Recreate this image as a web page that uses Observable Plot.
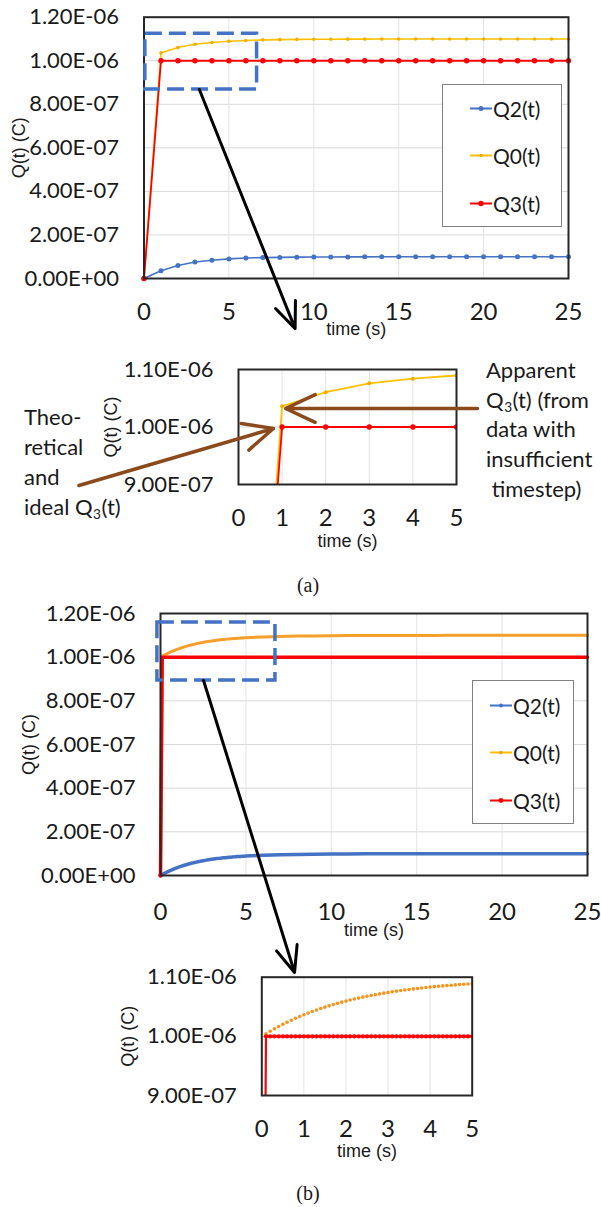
<!DOCTYPE html>
<html>
<head>
<meta charset="utf-8">
<script src="https://cdn.jsdelivr.net/npm/d3@7"></script>
<script src="https://cdn.jsdelivr.net/npm/@observablehq/plot@0.6"></script>
<style>
  html, body { margin: 0; padding: 0; background: #fff; }
  #page { position: relative; width: 601px; height: 1207px; overflow: hidden; background: #fff; }
  .layer { position: absolute; left: 0; }
  .note { position: absolute; font-family: Lato, "Open Sans", sans-serif; font-size: 22px; line-height: 26px; color: #1a1a1a; white-space: pre; transform: translateY(-50%); }
  .note sub { font-size: 0.62em; line-height: 0; vertical-align: -0.28em; margin: 0 0.5px; }
  .cap { position: absolute; font-family: "Liberation Serif", serif; font-size: 20px; color: #1a1a1a; transform: translate(-50%, -50%); }
  .legend { position: absolute; border: 1.5px solid #808080; box-sizing: border-box; background: #fff; }
  .lg { position: absolute; font-family: Lato, "Open Sans", sans-serif; font-size: 21px; color: #1a1a1a; display: flex; align-items: center; transform: translateY(-50%); }
  .lg svg { display: block; }
</style>
</head>
<body>
<div id="page"></div>
<script>
// ---------- data ----------
// (a) coarse time step (1 s)
const timeA = [0,1,2,3,4,5,6,7,8,9,10,11,12,13,14,15,16,17,18,19,20,21,22,23,24,25];
const q2A = [0,3.6e-8,6.0e-8,7.6e-8,8.4e-8,9.0e-8,9.4e-8,9.6e-8,9.7e-8,9.8e-8,9.85e-8,9.9e-8,9.92e-8,9.94e-8,9.96e-8,9.97e-8,9.98e-8,9.98e-8,9.99e-8,9.99e-8,1.0e-7,1.0e-7,1.0e-7,1.0e-7,1.0e-7,1.0e-7];
const q0A = [0,1.036e-6,1.0605e-6,1.076e-6,1.084e-6,1.0896e-6,1.093e-6,1.096e-6,1.097e-6,1.098e-6,1.0985e-6,1.099e-6,1.0992e-6,1.0994e-6,1.0996e-6,1.0997e-6,1.0998e-6,1.0998e-6,1.0999e-6,1.0999e-6,1.1e-6,1.1e-6,1.1e-6,1.1e-6,1.1e-6,1.1e-6];
const q3A = [0,1e-6,1e-6,1e-6,1e-6,1e-6,1e-6,1e-6,1e-6,1e-6,1e-6,1e-6,1e-6,1e-6,1e-6,1e-6,1e-6,1e-6,1e-6,1e-6,1e-6,1e-6,1e-6,1e-6,1e-6,1e-6];

// (b) fine time step (0.1 s up to 5 s, then every second)
const timeB = [0,0.1,0.2,0.3,0.4,0.5,0.6,0.7,0.8,0.9,1.0,1.1,1.2,1.3,1.4,1.5,1.6,1.7,1.8,1.9,2.0,2.1,2.2,2.3,2.4,2.5,2.6,2.7,2.8,2.9,3.0,3.1,3.2,3.3,3.4,3.5,3.6,3.7,3.8,3.9,4.0,4.1,4.2,4.3,4.4,4.5,4.6,4.7,4.8,4.9,5.0,6,7,8,9,10,11,12,13,14,15,16,17,18,19,20,21,22,23,24,25];
const q2B = [0,4.4e-9,8.7e-9,1.27e-8,1.66e-8,2.03e-8,2.39e-8,2.72e-8,3.05e-8,3.35e-8,3.65e-8,3.93e-8,4.20e-8,4.46e-8,4.70e-8,4.94e-8,5.16e-8,5.38e-8,5.58e-8,5.78e-8,5.96e-8,6.14e-8,6.31e-8,6.47e-8,6.63e-8,6.78e-8,6.92e-8,7.05e-8,7.18e-8,7.30e-8,7.42e-8,7.53e-8,7.64e-8,7.74e-8,7.84e-8,7.93e-8,8.02e-8,8.10e-8,8.18e-8,8.26e-8,8.33e-8,8.40e-8,8.47e-8,8.53e-8,8.59e-8,8.65e-8,8.70e-8,8.75e-8,8.80e-8,8.85e-8,8.90e-8,9.25e-8,9.5e-8,9.65e-8,9.75e-8,9.83e-8,9.88e-8,9.92e-8,9.94e-8,9.96e-8,9.97e-8,9.98e-8,9.99e-8,9.99e-8,1e-7,1e-7,1e-7,1e-7,1e-7,1e-7,1e-7];
const q0B = [0,1.0044e-6,1.0087e-6,1.0127e-6,1.0166e-6,1.0203e-6,1.0239e-6,1.0272e-6,1.0305e-6,1.0335e-6,1.0365e-6,1.0393e-6,1.0420e-6,1.0446e-6,1.0470e-6,1.0494e-6,1.0516e-6,1.0538e-6,1.0558e-6,1.0578e-6,1.0596e-6,1.0614e-6,1.0631e-6,1.0647e-6,1.0663e-6,1.0678e-6,1.0692e-6,1.0705e-6,1.0718e-6,1.0730e-6,1.0742e-6,1.0753e-6,1.0764e-6,1.0774e-6,1.0784e-6,1.0793e-6,1.0802e-6,1.0810e-6,1.0818e-6,1.0826e-6,1.0833e-6,1.0840e-6,1.0847e-6,1.0853e-6,1.0859e-6,1.0865e-6,1.0870e-6,1.0875e-6,1.0880e-6,1.0885e-6,1.0890e-6,1.0925e-6,1.095e-6,1.0965e-6,1.0975e-6,1.0983e-6,1.0988e-6,1.0992e-6,1.0994e-6,1.0996e-6,1.0997e-6,1.0998e-6,1.0999e-6,1.0999e-6,1.1e-6,1.1e-6,1.1e-6,1.1e-6,1.1e-6,1.1e-6,1.1e-6];
const q3B = [0,1e-6,1e-6,1e-6,1e-6,1e-6,1e-6,1e-6,1e-6,1e-6,1e-6,1e-6,1e-6,1e-6,1e-6,1e-6,1e-6,1e-6,1e-6,1e-6,1e-6,1e-6,1e-6,1e-6,1e-6,1e-6,1e-6,1e-6,1e-6,1e-6,1e-6,1e-6,1e-6,1e-6,1e-6,1e-6,1e-6,1e-6,1e-6,1e-6,1e-6,1e-6,1e-6,1e-6,1e-6,1e-6,1e-6,1e-6,1e-6,1e-6,1e-6,1e-6,1e-6,1e-6,1e-6,1e-6,1e-6,1e-6,1e-6,1e-6,1e-6,1e-6,1e-6,1e-6,1e-6,1e-6,1e-6,1e-6,1e-6,1e-6,1e-6];

// tick values
const xTicksFull = [0,5,10,15,20,25];
const yTicksFull = [0,2e-7,4e-7,6e-7,8e-7,1e-6,1.2e-6];
const xTicksZoom = [0,1,2,3,4,5];
const yTicksZoom = [9e-7,1e-6,1.1e-6];
const seriesNames = ["Q2(t)","Q0(t)","Q3(t)"];

// annotation texts
const noteLeft = ["Theo-", "retical", "and", "ideal Q<sub>3</sub>(t)"];
const noteRight = ["Apparent", "Q<sub>3</sub>(t) (from", "data with", "insufficient", " timestep)"];

// annotations (data space)
const zoomBoxA = [{x1:0.08, x2:6.66, y1:0.868e-6, y2:1.124e-6}];
const zoomArrowA = [{x1:3.26, y1:0.868e-6, x2:8.9, y2:-0.23e-6}];
const noteArrowsA = [
  {x1:-3.66, y1:0.8983e-6, x2:0.80, y2:0.9974e-6},
  {x1:5.48, y1:1.0322e-6, x2:1.08, y2:1.0322e-6}
];
const zoomBoxB = [{x1:-0.18, x2:6.73, y1:0.893e-6, y2:1.159e-6}];
const zoomArrowB = [{x1:2.52, y1:0.893e-6, x2:7.85, y2:-0.444e-6}];

// ---------- helpers ----------
const BLUE = "#4472C4", YEL = "#FFC000", YELDOT = "#F2AE00", RED = "#FF0000", ORANGE = "#F5A02A", ORANGEDOT = "#F7941D", BROWN = "#8B4A1C";
const INK = "#1a1a1a";
const TICKFONT = "Lato, 'Open Sans', sans-serif";
const TITLEFONT = "'Liberation Sans', Arial, sans-serif";
const fmtE = d => {
  const [m, e] = d.toExponential(2).split("e");
  const sign = e[0] === "-" ? "-" : "+";
  return m + "E" + sign + e.replace(/^[-+]/, "").padStart(2, "0");
};
const rowsA = timeA.map((t, i) => ({t, q2: q2A[i], q0: q0A[i], q3: q3A[i]}));
const rowsB = timeB.map((t, i) => ({t, q2: q2B[i], q0: q0B[i], q3: q3B[i]}));

function axisMarks(xTicks, yTicks, xDom, yDom, o) {
  return [
    Plot.ruleY(yTicks.filter(d => d > yDom[0] && d < yDom[1]), {stroke: "#d9d9d9", strokeWidth: 1}),
    Plot.ruleX(xTicks.filter(d => d > xDom[0] && d < xDom[1]), {stroke: "#e3e3e3", strokeWidth: 1}),
    Plot.text(yTicks, {x: () => xDom[0], y: d => d, text: fmtE, dx: -25, textAnchor: "end", fontSize: o.yFont, fontFamily: TICKFONT, fill: INK}),
    Plot.text(xTicks, {x: d => d, y: () => yDom[0], text: d => String(d), dy: o.xDy, fontSize: o.xFont, fontFamily: TICKFONT, fill: INK}),
    Plot.text(["time (s)"], {frameAnchor: "bottom", textAnchor: "middle", lineAnchor: "middle", dy: o.tDy, fontSize: 18, fontFamily: TITLEFONT, fill: INK}),
    Plot.text(["Q(t) (C)"], {frameAnchor: "left", textAnchor: "middle", lineAnchor: "middle", dx: o.qDx, rotate: -90, fontSize: 18, fontFamily: TITLEFONT, fill: INK})
  ];
}

function place(svg, top) {
  const d = document.createElement("div");
  d.className = "layer";
  d.style.top = top + "px";
  d.appendChild(svg);
  document.getElementById("page").appendChild(d);
}

const common = {width: 601, style: {background: "transparent", overflow: "visible"}};

// ---------- chart (a) full ----------
{
  const xDom = [0, 25], yDom = [0, 1.2e-6];
  const p = Plot.plot({
    ...common, height: 345,
    marginLeft: 143.5, marginRight: 33, marginTop: 16.7, marginBottom: 67,
    x: {domain: xDom, axis: null}, y: {domain: yDom, axis: null},
    marks: [
      ...axisMarks(xTicksFull, yTicksFull, xDom, yDom, {yFont: 22, xFont: 24, xDy: 34, tDy: 51, qDx: -124.5}),
      Plot.line(rowsA, {x: "t", y: "q2", stroke: BLUE, strokeWidth: 1.6}),
      Plot.dot(rowsA, {x: "t", y: "q2", r: 2.5, fill: BLUE}),
      Plot.line(rowsA, {x: "t", y: "q0", stroke: YEL, strokeWidth: 1.6}),
      Plot.dot(rowsA, {x: "t", y: "q0", r: 1.8, fill: YELDOT}),
      Plot.line(rowsA, {x: "t", y: "q3", stroke: RED, strokeWidth: 1.8}),
      Plot.dot(rowsA, {x: "t", y: "q3", r: 2.7, fill: RED}),
      Plot.frame({stroke: "#262626", strokeWidth: 2}),
      Plot.rect(zoomBoxA, {x1: "x1", x2: "x2", y1: "y1", y2: "y2", fill: "none", stroke: BLUE, strokeWidth: 3.5, strokeDasharray: "17,7"}),
      Plot.arrow(zoomArrowA, {x1: "x1", y1: "y1", x2: "x2", y2: "y2", stroke: "#000", strokeWidth: 3, headLength: 14, headAngle: 45})
    ]
  });
  place(p, 0);
}

// ---------- chart (a) zoom ----------
{
  const xDom = [0, 5], yDom = [0.9e-6, 1.1e-6];
  const rows = rowsA.filter(d => d.t <= 5);
  const p = Plot.plot({
    ...common, height: 210,
    marginLeft: 238, marginRight: 145, marginTop: 24, marginBottom: 71,
    x: {domain: xDom, axis: null}, y: {domain: yDom, axis: null},
    marks: [
      ...axisMarks(xTicksZoom, yTicksZoom, xDom, yDom, {yFont: 22, xFont: 24, xDy: 34, tDy: 57, qDx: -127}),
      Plot.line(rows, {x: "t", y: "q0", stroke: YEL, strokeWidth: 1.8, clip: true}),
      Plot.dot(rows, {x: "t", y: "q0", r: 2, fill: YELDOT, clip: true}),
      Plot.line(rows, {x: "t", y: "q3", stroke: RED, strokeWidth: 1.8, clip: true}),
      Plot.dot(rows, {x: "t", y: "q3", r: 2.7, fill: RED, clip: true}),
      Plot.frame({stroke: "#262626", strokeWidth: 2}),
      Plot.arrow(noteArrowsA, {x1: "x1", y1: "y1", x2: "x2", y2: "y2", stroke: BROWN, strokeWidth: 3.5, headLength: 14, headAngle: 50})
    ]
  });
  place(p, 345);
}

// ---------- chart (b) full ----------
{
  const xDom = [0, 25], yDom = [0, 1.2e-6];
  const p = Plot.plot({
    ...common, height: 395,
    marginLeft: 160, marginRight: 14, marginTop: 23, marginBottom: 110,
    x: {domain: xDom, axis: null}, y: {domain: yDom, axis: null},
    marks: [
      ...axisMarks(xTicksFull, yTicksFull, xDom, yDom, {yFont: 22, xFont: 24, xDy: 37, tDy: 55, qDx: -131}),
      Plot.line(rowsB, {x: "t", y: "q2", stroke: BLUE, strokeWidth: 3.5}),
      Plot.line(rowsB, {x: "t", y: "q0", stroke: ORANGE, strokeWidth: 3}),
      Plot.line(rowsB, {x: "t", y: "q3", stroke: RED, strokeWidth: 3.5}),
      Plot.dot(rowsB.slice(0, 1), {x: "t", y: "q3", r: 2.2, fill: RED}),
      Plot.frame({stroke: "#262626", strokeWidth: 2}),
      Plot.rect(zoomBoxB, {x1: "x1", x2: "x2", y1: "y1", y2: "y2", fill: "none", stroke: BLUE, strokeWidth: 3.5, strokeDasharray: "17,7"}),
      Plot.arrow(zoomArrowB, {x1: "x1", y1: "y1", x2: "x2", y2: "y2", stroke: "#000", strokeWidth: 3, headLength: 14, headAngle: 45})
    ]
  });
  place(p, 590);
}

// ---------- chart (b) zoom ----------
{
  const xDom = [0, 5], yDom = [0.9e-6, 1.1e-6];
  const rows = rowsB.filter(d => d.t <= 5);
  const p = Plot.plot({
    ...common, height: 200,
    marginLeft: 261.3, marginRight: 129.3, marginTop: 16.7, marginBottom: 65,
    x: {domain: xDom, axis: null}, y: {domain: yDom, axis: null},
    marks: [
      ...axisMarks(xTicksZoom, yTicksZoom, xDom, yDom, {yFont: 22, xFont: 24, xDy: 34, tDy: 56, qDx: -134}),
      Plot.dot(rows.filter(d => d.t > 0), {x: "t", y: "q0", r: 1.8, fill: ORANGEDOT, clip: true}),
      Plot.line(rows, {x: "t", y: "q3", stroke: RED, strokeWidth: 2.2, clip: true}),
      Plot.dot(rows, {x: "t", y: "q3", r: 2.2, fill: RED, clip: true}),
      Plot.frame({stroke: "#262626", strokeWidth: 2})
    ]
  });
  place(p, 960);
}

// ---------- legends ----------
const colorsA = [[BLUE, BLUE, 2.5], [YEL, YELDOT, 1.8], [RED, RED, 2.7]];
const colorsB = [[BLUE, BLUE, 2.0], [YEL, ORANGE, 1.8], [RED, RED, 2.4]];
function legend(box, entries, colors, lineX, textGap) {
  const page = document.getElementById("page");
  const b = document.createElement("div");
  b.className = "legend";
  Object.assign(b.style, {left: box[0] + "px", top: box[1] + "px", width: box[2] + "px", height: box[3] + "px"});
  page.appendChild(b);
  seriesNames.forEach((name, i) => {
    const e = document.createElement("div");
    e.className = "lg";
    e.style.left = lineX + "px";
    e.style.top = entries[i] + "px";
    const [lc, dc, r] = colors[i];
    e.innerHTML = `<svg width="22" height="10"><line x1="0" y1="5" x2="22" y2="5" stroke="${lc}" stroke-width="1.8"/><circle cx="11" cy="5" r="${r}" fill="${dc}"/></svg><span style="margin-left:${textGap}px">${name}</span>`;
    page.appendChild(e);
  });
}
legend([442, 84, 120, 143], [108, 155, 203], colorsA, 470, 1);
legend([472, 680, 102, 144], [705, 752, 800], colorsB, 490, 1);

// ---------- notes and captions ----------
function note(lines, left, centers) {
  lines.forEach((html, i) => {
    const n = document.createElement("div");
    n.className = "note";
    n.style.left = left + "px";
    n.style.top = centers[i] + "px";
    n.innerHTML = html;
    document.getElementById("page").appendChild(n);
  });
}
note(noteLeft, 24, [417, 447, 477, 507]);
note(noteRight, 486, [370, 400, 429, 459, 489]);

function cap(text, x, y) {
  const c = document.createElement("div");
  c.className = "cap";
  c.style.left = x + "px";
  c.style.top = y + "px";
  c.textContent = text;
  document.getElementById("page").appendChild(c);
}
cap("(a)", 308, 585);
cap("(b)", 308, 1193);
</script>
</body>
</html>
